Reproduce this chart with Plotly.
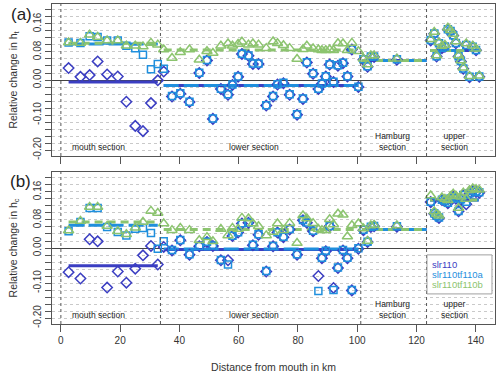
import plotly.graph_objects as go

# measuring stations, km from the mouth, per section
mouth_km = [2.6, 6.6, 9.7, 12.4, 15.6, 19.2, 22.1, 25.1, 27.7, 30.4, 32.7]
lower_km = [34.7, 37.5, 40.3, 43.4, 46.7, 49.3, 51.3, 54.0, 56.4, 57.9, 59.8, 61.1,
            63.3, 64.8, 66.7, 69.3, 71.6, 73.1, 75.1, 77.2, 79.7, 81.7, 83.0, 85.1,
            86.9, 88.1, 89.4, 90.7, 92.0, 93.5, 95.2, 96.7, 98.2, 100.4]
hamburg_km = [102.1, 103.5, 104.6, 105.7, 113.4]
upper_km = [124.8, 126.0, 126.8, 127.6, 128.6, 129.6, 130.6, 131.5, 132.4, 133.3,
            134.2, 135.0, 135.8, 136.8, 137.9, 139.0, 140.1, 141.2]
km = mouth_km + lower_km + hamburg_km + upper_km

# section limits (km) and the span of each section mean line
sec_bounds = [0, 33.6, 101.2, 123.4]
sec_start = [2.6, 34.7, 101.6, 124.6]
sec_end = [32.7, 100.4, 123.4, 141.0]
sec_names = ['mouth section', 'lower section', 'Hamburg<br>section', 'upper<br>section']

series = ['slr110', 'slr110tf110a', 'slr110tf110b']

# (a) relative change in h_t
ht_slr110 = ([0.034, 0.009, 0.014, 0.053, 0.016, 0.010, -0.062, -0.131, -0.146, -0.066, -0.001]
             + [0.024, -0.047, -0.039, -0.063, 0.020, 0.056, -0.111, -0.026, -0.042, -0.014, 0.009, 0.074,
                0.069, 0.046, 0.046, -0.073, -0.047, -0.013, -0.009, -0.042, -0.099, -0.054, 0.050, 0.018,
                -0.026, -0.011, 0.010, 0.044, -0.006, 0.041, 0.048, 0.010, 0.087, -0.020]
             + [0.058, 0.038, 0.066, 0.066, 0.058]
             + [0.113, 0.132, 0.067, 0.104, 0.091, 0.095, 0.144, 0.139, 0.127, 0.105, 0.067, 0.053,
                0.032, 0.099, 0.008, 0.094, 0.085, 0.009])
ht_tf110a = ([0.107, 0.106, 0.125, 0.123, 0.113, 0.113, 0.098, 0.091, 0.072, 0.031, 0.046]
             + [0.032, -0.046, -0.038, -0.062, 0.021, 0.057, -0.110, -0.025, -0.041, -0.013, 0.010, 0.075,
                0.070, 0.047, 0.047, -0.072, -0.046, -0.012, -0.008, -0.041, -0.098, -0.053, 0.051, 0.019,
                -0.025, -0.010, 0.011, 0.045, -0.005, 0.042, 0.049, 0.011, 0.088, -0.019]
             + [0.059, 0.039, 0.067, 0.067, 0.059]
             + [0.114, 0.133, 0.068, 0.105, 0.092, 0.096, 0.145, 0.140, 0.128, 0.106, 0.068, 0.054,
                0.033, 0.100, 0.009, 0.095, 0.086, 0.010])
ht_tf110b = ([0.107, 0.106, 0.129, 0.123, 0.113, 0.113, 0.098, 0.098, 0.096, 0.106, 0.101]
             + [0.087, 0.063, 0.079, 0.087, 0.058, 0.082, 0.077, 0.098, 0.104, 0.098, 0.103, 0.109,
                0.101, 0.104, 0.101, 0.091, 0.110, 0.105, 0.099, 0.091, 0.060, 0.088, 0.098, 0.090,
                0.087, 0.085, 0.085, 0.087, 0.085, 0.105, 0.104, 0.085, 0.106, 0.082]
             + [0.061, 0.044, 0.070, 0.070, 0.061]
             + [0.116, 0.137, 0.070, 0.107, 0.097, 0.100, 0.149, 0.142, 0.131, 0.110, 0.070, 0.056,
                0.035, 0.104, 0.011, 0.098, 0.089, 0.012])
ht_mean_slr110 = [-0.006, -0.016, 0.056, 0.084]
ht_mean_tf110a = [0.103, -0.016, 0.056, 0.084]
ht_mean_tf110b = [0.105, 0.086, 0.056, 0.084]

# (b) relative change in h_c
hc_slr110 = ([-0.069, -0.087, 0.025, 0.019, -0.113, -0.067, -0.099, -0.059, -0.021, 0.006, -0.047]
             + [0.003, -0.007, 0.022, -0.019, 0.005, 0.017, 0.006, -0.035, -0.035, 0.034, 0.044, 0.070,
                0.072, 0.008, 0.038, -0.067, 0.005, 0.044, 0.031, 0.053, -0.019, 0.079, 0.072, 0.048,
                -0.080, -0.029, -0.009, 0.062, -0.114, -0.057, -0.007, -0.029, -0.121, -0.002]
             + [0.051, 0.017, 0.060, 0.062, 0.061]
             + [0.131, 0.098, 0.091, 0.086, 0.137, 0.134, 0.128, 0.140, 0.146, 0.141, 0.105, 0.138,
                0.150, 0.125, 0.155, 0.162, 0.160, 0.158])
hc_tf110a = ([0.048, 0.074, 0.114, 0.114, 0.060, 0.046, 0.036, 0.055, 0.057, 0.043, -0.002]
             + [0.019, -0.006, 0.023, -0.018, 0.006, 0.018, 0.007, -0.034, -0.047, 0.035, 0.045, 0.071,
                0.073, 0.009, 0.039, -0.066, 0.006, 0.045, 0.032, 0.054, -0.018, 0.080, 0.073, 0.049,
                -0.123, -0.028, -0.008, 0.063, -0.120, -0.056, -0.006, -0.028, -0.120, -0.001]
             + [0.052, 0.018, 0.061, 0.063, 0.062]
             + [0.132, 0.099, 0.092, 0.087, 0.138, 0.135, 0.129, 0.141, 0.147, 0.142, 0.106, 0.139,
                0.151, 0.132, 0.156, 0.163, 0.161, 0.159])
hc_tf110b = ([0.050, 0.077, 0.117, 0.117, 0.063, 0.048, 0.039, 0.058, 0.074, 0.106, 0.100]
             + [0.070, 0.051, 0.057, 0.051, 0.022, 0.031, 0.019, 0.054, 0.036, 0.057, 0.054, 0.086,
                0.084, 0.070, 0.062, 0.036, 0.046, 0.070, 0.051, 0.071, 0.014, 0.093, 0.084, 0.071,
                0.054, 0.051, 0.051, 0.082, 0.067, 0.098, 0.095, 0.033, 0.065, 0.070]
             + [0.056, 0.020, 0.064, 0.066, 0.064]
             + [0.150, 0.104, 0.097, 0.092, 0.144, 0.140, 0.136, 0.148, 0.155, 0.149, 0.114, 0.146,
                0.158, 0.140, 0.165, 0.170, 0.168, 0.166])
hc_mean_slr110 = [-0.051, -0.004, 0.053, 0.137]
hc_mean_tf110a = [0.065, -0.003, 0.053, 0.137]
hc_mean_tf110b = [0.074, 0.053, 0.053, 0.137]

y_ticks = [-0.2, -0.18, -0.16, -0.14, -0.12, -0.1, -0.08, -0.06, -0.04, -0.02, 0.0,
           0.02, 0.04, 0.06, 0.08, 0.1, 0.12, 0.14, 0.16, 0.18, 0.2]
y_labels = {-0.2: '-0.20', -0.1: '-0.10', 0.0: '0.00', 0.08: '0.08', 0.16: '0.16'}
x_ticks = [0, 20, 40, 60, 80, 100, 120, 140]

colors = {'slr110': '#3b3ec2', 'slr110tf110a': '#1f8fdd', 'slr110tf110b': '#8cc46f'}
symbols = {'slr110': 'diamond-open', 'slr110tf110a': 'square-open', 'slr110tf110b': 'triangle-up-open'}
msizes = {'slr110': 8, 'slr110tf110a': 7, 'slr110tf110b': 9}
dashes = {'slr110': 'solid', 'slr110tf110a': '15px,5px', 'slr110tf110b': '8px,5px'}

fig = go.Figure()


def add_panel(values, means, xa, ya):
    # section mean lines first, points on top
    for name, m in zip(series, means):
        xs, ys = [], []
        for s, e, v in zip(sec_start, sec_end, m):
            xs += [s, e, None]
            ys += [v, v, None]
        fig.add_trace(go.Scatter(x=xs, y=ys, mode='lines', xaxis=xa, yaxis=ya,
                                 line=dict(color=colors[name], width=3, dash=dashes[name]),
                                 hoverinfo='skip'))
    for name, v in zip(series, values):
        fig.add_trace(go.Scatter(x=km, y=v, mode='markers', name=name, xaxis=xa, yaxis=ya,
                                 marker=dict(symbol=symbols[name], size=msizes[name], color=colors[name],
                                             line=dict(width=1.5, color=colors[name]))))


add_panel([ht_slr110, ht_tf110a, ht_tf110b], [ht_mean_slr110, ht_mean_tf110a, ht_mean_tf110b], 'x', 'y')
add_panel([hc_slr110, hc_tf110a, hc_tf110b], [hc_mean_slr110, hc_mean_tf110a, hc_mean_tf110b], 'x2', 'y2')

frame = '#555555'
xcommon = dict(range=[-3, 146.5], tickvals=x_ticks, ticks='outside', ticklen=7, tickcolor=frame,
               showline=True, mirror=True, linecolor=frame, showgrid=False, zeroline=False,
               automargin=False, tickfont=dict(size=10, color='#333'))
ycommon = dict(range=[-0.217, 0.217], tickvals=y_ticks,
               ticktext=[y_labels.get(round(t, 2), '') for t in y_ticks],
               tickangle=-90, ticks='outside', ticklen=6, tickcolor=frame,
               showline=True, mirror=True, linecolor=frame,
               showgrid=True, gridcolor='#c9c9c9', griddash='dot', gridwidth=1,
               zeroline=True, zerolinecolor='#444', zerolinewidth=1,
               automargin=False, tickfont=dict(size=10, color='#333'))

fig.update_layout(
    width=500, height=374,
    margin=dict(l=52, r=5, t=4, b=50),
    plot_bgcolor='white', paper_bgcolor='white',
    showlegend=False,
    font=dict(family='Liberation Sans, Arial, sans-serif', size=10, color='#333'),
    xaxis=dict(xcommon, domain=[0, 1], anchor='y', showticklabels=False),
    yaxis=dict(ycommon, domain=[0.525, 1], anchor='x',
               title=dict(text='Relative change in h<sub>t</sub>', font=dict(size=10.5), standoff=12)),
    xaxis2=dict(xcommon, domain=[0, 1], anchor='y2',
                title=dict(text='Distance from mouth in km', font=dict(size=10.5), standoff=18)),
    yaxis2=dict(ycommon, domain=[0, 0.475], anchor='x2',
                title=dict(text='Relative change in h<sub>c</sub>', font=dict(size=10.5), standoff=12)),
)

# section boundaries and section names
label_km = [12.7, 65, 112, 132.7]
for xa, ya in [('x', 'y'), ('x2', 'y2')]:
    for b in sec_bounds:
        fig.add_shape(type='line', xref=xa, yref=ya + ' domain', x0=b, x1=b, y0=0, y1=1,
                      line=dict(color='#555', width=1, dash='dot'))
    for lx, txt in zip(label_km, sec_names):
        fig.add_annotation(x=lx, y=-0.176 if '<br>' in txt else -0.19, xref=xa, yref=ya,
                           text=txt, showarrow=False, xanchor='center', yanchor='middle',
                           font=dict(size=8.5, color='#222'))

# panel letters
fig.add_annotation(x=-0.068, y=0.966, xref='paper', yref='paper', text='(a)', showarrow=False,
                   xanchor='center', yanchor='middle', font=dict(size=17, color='#222'))
fig.add_annotation(x=-0.072, y=0.444, xref='paper', yref='paper', text='(b)', showarrow=False,
                   xanchor='center', yanchor='middle', font=dict(size=17, color='#222'))

# legend: coloured text in a grey box
fig.add_shape(type='rect', xref='paper', yref='paper', x0=0.8465, x1=0.9932, y0=0.094, y1=0.216,
              line=dict(color='#a0a0a0', width=1), fillcolor='white', layer='above')
for i, name in enumerate(series):
    fig.add_annotation(x=0.853, y=0.185 - i * 0.031, xref='paper', yref='paper', text=name,
                       showarrow=False, xanchor='left', yanchor='middle',
                       font=dict(size=9.5, color=colors[name]))

# drop the browser's default page margin so the 500x374 figure sits at the top-left corner
fig.write_html("out.html", config={'displayModeBar': False},
               post_script="document.body.style.margin='0';")
